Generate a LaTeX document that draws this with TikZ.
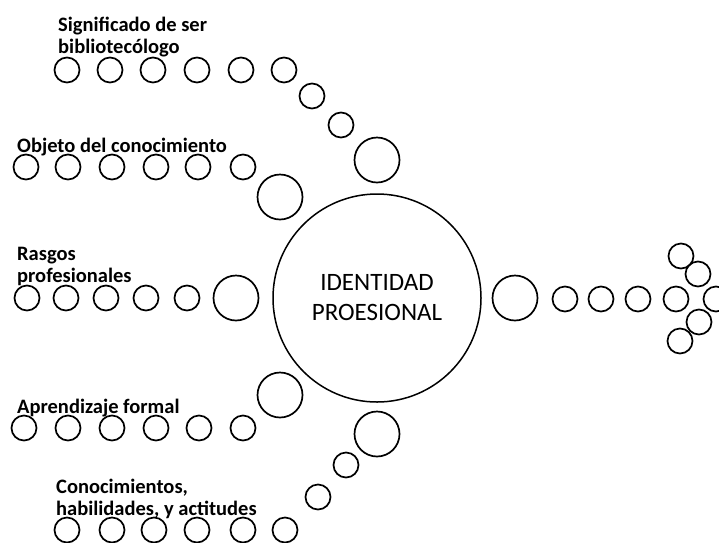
\documentclass[tikz,border=0pt]{standalone}
\usepackage{fontspec}
\setmainfont{Carlito}
\begin{document}
\begin{tikzpicture}[x=1pt,y=-1pt,
  ring/.style={circle,draw=black,line width=1.7pt,inner sep=0pt,minimum size=25pt},
  bigring/.style={ring,minimum size=45pt},
  lbl/.style={anchor=base west,inner sep=0pt,font=\bfseries\fontsize{20.5}{21.5}\selectfont,align=left}
]
\useasboundingbox (0,0) rectangle (719,542);

% central circle
\node[circle,draw=black,line width=1.5pt,minimum size=208pt,inner sep=0pt,
      font=\fontsize{25}{30}\selectfont,align=center] (core) at (377,298) {IDENTIDAD\\PROESIONAL};

% row 1: significado de ser bibliotecologo (anchor on the last baseline)
\node[lbl] (t1) at (58,53) {Significado de ser\\bibliotecólogo};
\foreach \x [count=\i] in {67,110,153,197,241,284}
  \node[ring] (a\i) at (\x,70) {};
\node[ring] (a7) at (312,96) {};
\node[ring] (a8) at (341,125) {};
\node[bigring] (a9) at (377,160) {};

% row 2: objeto del conocimiento
\node[lbl] (t2) at (17,152) {Objeto del conocimiento};
\foreach \x [count=\i] in {26,68,112,156,198,243}
  \node[ring] (b\i) at (\x,167) {};
\node[bigring] (b7) at (280,197) {};

% row 3: rasgos profesionales
\node[lbl] (t3) at (17,282) {Rasgos\\profesionales};
\foreach \x [count=\i] in {27,66,106,146,187}
  \node[ring] (c\i) at (\x,298) {};
\node[bigring] (c6) at (236,298) {};

% row 4: aprendizaje formal
\node[lbl] (t4) at (17,413) {Aprendizaje formal};
\foreach \x [count=\i] in {24,68,112,156,199,243}
  \node[ring] (d\i) at (\x,428) {};
\node[bigring] (d7) at (280,395) {};

% row 5: conocimientos, habilidades y actitudes
\node[lbl] (t5) at (56,515) {Conocimientos,\\habilidades, y actitudes};
\foreach \x [count=\i] in {67,112,154,197,243,285}
  \node[ring] (e\i) at (\x,530) {};
\node[ring] (e7) at (318,497) {};
\node[ring] (e8) at (346,465) {};
\node[bigring] (e9) at (377,434) {};

% output arrow
\node[bigring] (f0) at (515,298) {};
\foreach \x [count=\i] in {565,601,638,676}
  \node[ring] (f\i) at (\x,299) {};
\node[ring] (h1) at (681,256) {};
\node[ring] (h2) at (698,274) {};
\node[ring] (h3) at (716,299) {};
\node[ring] (h4) at (699,322) {};
\node[ring] (h5) at (680,341) {};
\end{tikzpicture}
\end{document}
